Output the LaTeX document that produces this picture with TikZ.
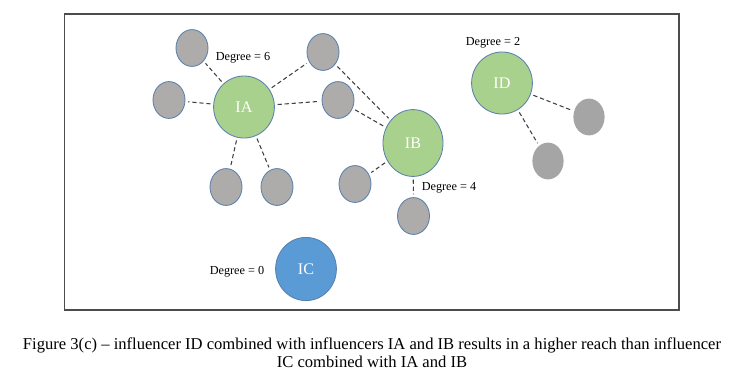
\documentclass[tikz,border=0pt]{standalone}
\usepackage{fontspec}
\setmainfont{Liberation Serif}
\usetikzlibrary{shapes.geometric}

\definecolor{inflgreen}{HTML}{A9D18E}
\definecolor{inflblue}{HTML}{5B9BD5}
\definecolor{outline}{HTML}{5A80AC}
\definecolor{follgray}{HTML}{AEABAB}
\definecolor{fadegray}{HTML}{A5A5A5}
\definecolor{linkgray}{HTML}{404040}

\tikzset{
  influencer/.style={ellipse, draw=outline, line width=0.6pt, fill=inflgreen,
    minimum width=1.52cm, minimum height=1.55cm, inner sep=0pt,
    text=white, font=\fontsize{11.5}{12}\selectfont},
  follower/.style={ellipse, draw=outline, line width=0.6pt, fill=follgray,
    minimum width=0.8cm, minimum height=0.92cm, inner sep=0pt},
  faded/.style={ellipse, fill=fadegray, minimum width=0.78cm,
    minimum height=0.92cm, inner sep=0pt},
  link/.style={dashed, dash pattern=on 3pt off 2pt, color=linkgray,
    line width=0.75pt, shorten <=2pt, shorten >=2pt},
  degree/.style={font=\fontsize{8.7}{9}\selectfont}
}

\begin{document}
\begin{tikzpicture}[x=0.025cm, y=-0.025cm]

  \useasboundingbox (0,0) rectangle (730,371);

  % --- Frame ---
  \draw[line width=0.9pt, color=gray!60!black] (64.5,14) rectangle (679,310);

  % --- Influencer IA and its followers ---
  \node[influencer] (IA) at (244,107) {IA};
  \node[follower] (a1) at (192,48) {};
  \node[follower] (a2) at (169,100) {};
  \node[follower] (a3) at (226,187) {};
  \node[follower] (a4) at (277,187) {};
  \node[follower] (a5) at (323,52) {};
  \node[follower] (a6) at (338,100) {};
  \node[degree] (dA) at (243,58) {Degree = 6};

  % --- Influencer IB ---
  \node[influencer, minimum width=1.5cm, minimum height=1.67cm] (IB) at (413,143) {IB};
  \node[follower] (b1) at (355,184) {};
  \node[follower] (b2) at (413.5,216) {};
  \node[degree] (dB) at (449,188) {Degree = 4};

  % --- Influencer ID ---
  \node[influencer] (ID) at (502,83) {ID};
  \node[faded] (d1) at (589,117) {};
  \node[faded] (d2) at (548,161) {};
  \node[degree] (dD) at (493,43) {Degree = 2};

  % --- Influencer IC ---
  \node[influencer, fill=inflblue, minimum height=1.58cm] (IC) at (306,269) {IC};
  \node[degree] (dC) at (237,272) {Degree = 0};

  % --- Links ---
  \foreach \f in {a1,a2,a3,a4,a5,a6}
    \draw[link] (IA) -- (\f);
  \draw[link] (a5) -- (IB);
  \draw[link] (a6) -- (IB);
  \draw[link] (IB) -- (b1);
  \draw[link] (IB) -- (b2);
  \draw[link] (ID) -- (d1);
  \draw[link] (ID) -- (d2);

  % --- Caption ---
  \node[align=center, font=\fontsize{11.8}{12.8}\selectfont] (cap) at (372,352.5)
    {Figure 3(c) -- influencer ID combined with influencers IA and IB results in a higher reach than influencer\\
     IC combined with IA and IB};

\end{tikzpicture}
\end{document}
